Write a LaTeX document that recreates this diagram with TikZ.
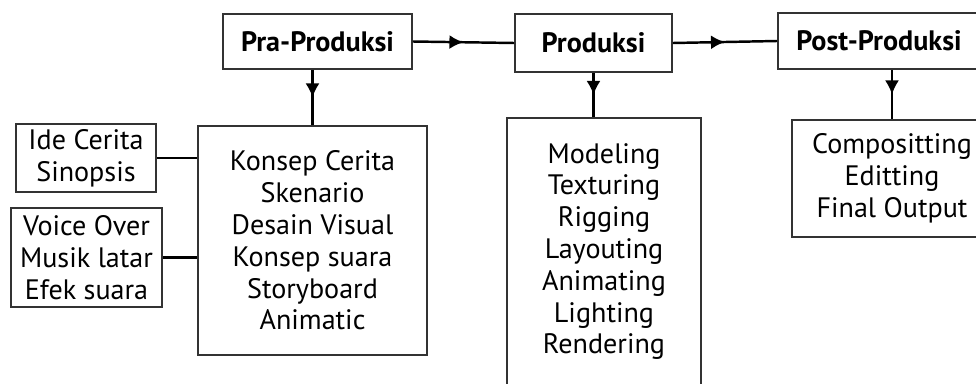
\documentclass[tikz,border=0pt]{standalone}
\usepackage{fontspec}
\setmainfont{PT Sans}
\usetikzlibrary{arrows.meta,decorations.markings}

\begin{document}
\begin{tikzpicture}[scale=0.2]
\tikzstyle{every node}+=[inner sep=0pt, font=\fontsize{16}{18.1}\selectfont]
\tikzstyle{box}=[draw=black!80, line width=1pt, align=center]
\tikzstyle{head}=[box, font=\fontsize{16}{18}\selectfont\bfseries]
\tikzstyle{link}=[black, line width=1.4pt]
\tikzstyle{midarrow}=[link, postaction={decorate}, decoration={markings, mark=at position 0.5 with {\arrow{Latex[length=8pt,width=8pt]}}}]
\useasboundingbox (0,0) rectangle (97.6,-38.3);
% tahapan
\node [head, minimum width=3.78cm, minimum height=1.1cm] (pra) at (31.75,-4.15) {Pra-Produksi};
\node [head, minimum width=3.14cm, minimum height=1.16cm] (prod) at (59.35,-4.3) {Produksi};
\node [head, minimum width=4.04cm, minimum height=1.12cm] (post) at (87.9,-4.1) {Post-Produksi};
% isi
\node [box, minimum width=2.8cm, minimum height=1.36cm] (ide) at (8.6,-15.8) {Ide Cerita\\Sinopsis};
\node [box, minimum width=3.02cm, minimum height=1.98cm] (audio) at (8.65,-25.75) {Voice Over\\Musik latar\\Efek suara};
\node [box, minimum width=4.58cm, minimum height=4.58cm] (konsep) at (31.25,-24.05) {Konsep Cerita\\Skenario\\Desain Visual\\Konsep suara\\Storyboard\\Animatic};
\node [box, minimum width=3.88cm, minimum height=5.34cm] (model) at (60.4,-25.15) {Modeling\\Texturing\\Rigging\\Layouting\\Animating\\Lighting\\Rendering};
\node [box, minimum width=4cm, minimum height=2.34cm] (final) at (89.2,-17.85) {Compositting\\Editting\\Final Output};
% panah
\draw [midarrow] (pra.east) -- (prod.west);
\draw [midarrow] (prod.east) -- (post.west);
\draw [midarrow] (konsep.north |- pra.south) -- (konsep.north);
\draw [midarrow] (prod.south) -- (prod.south |- model.north);
\draw [midarrow] (final.north |- post.south) -- (final.north);
\draw [link] (ide.east) -- (ide.east -| konsep.west);
\draw [link] (audio.east) -- (audio.east -| konsep.west);
\end{tikzpicture}
\end{document}
